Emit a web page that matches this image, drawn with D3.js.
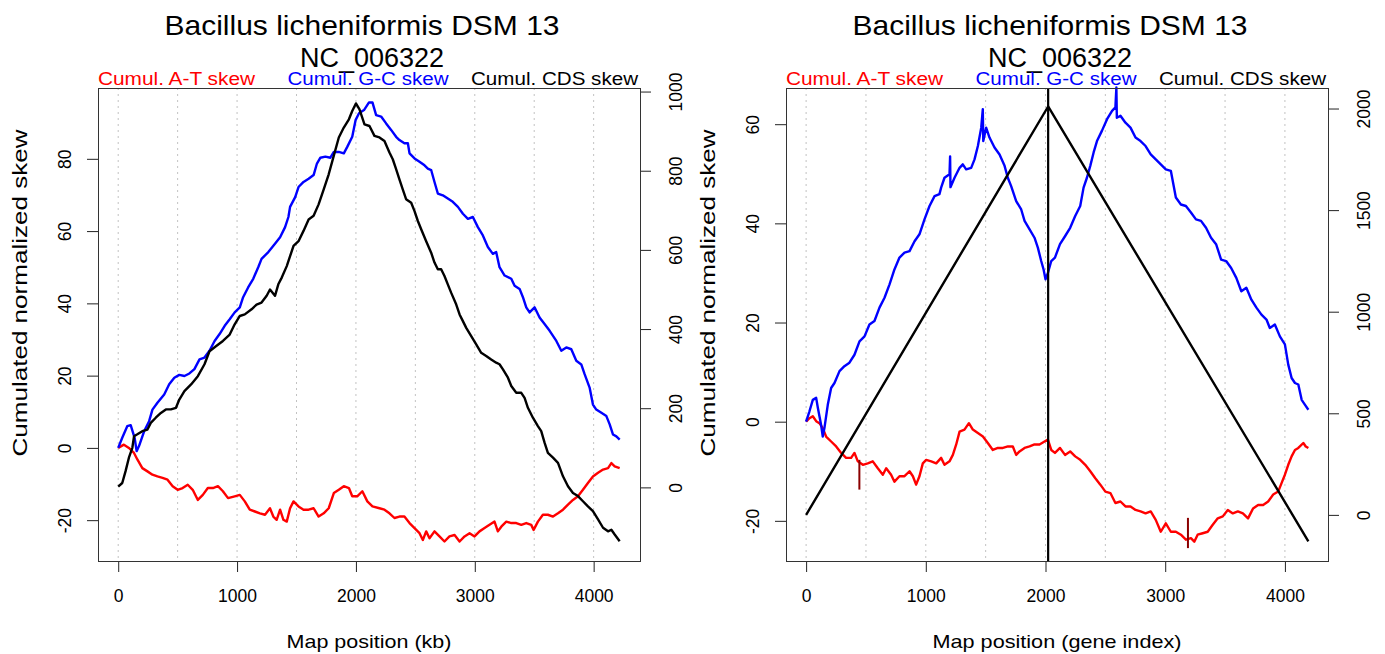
<!DOCTYPE html>
<html>
<head>
<meta charset="utf-8">
<script src="https://cdn.jsdelivr.net/npm/d3@7"></script>
<style>
body { margin: 0; background: #fff; }
text { font-family: "Liberation Sans", Arial, Helvetica, sans-serif; }
</style>
</head>
<body>
<div id="chart_div"></div>
<script>
var title_lines = ["Bacillus licheniformis DSM 13", "NC_006322"];
var legend_labels = ["Cumul. A-T skew", "Cumul. G-C skew", "Cumul. CDS skew"];
var series_colors = ["#ff0000", "#0000ff", "#000000"];
var y_label = "Cumulated normalized skew";
var x_labels = ["Map position (kb)", "Map position (gene index)"];

var x_ticks = [0, 1000, 2000, 3000, 4000];
var grid_ticks = [0, 500, 1000, 1500, 2000, 2500, 3000, 3500, 4000];
var left_y_ticks = [-20, 0, 20, 40, 60, 80];
var left_cds_ticks = [0, 200, 400, 600, 800, 1000];
var right_y_ticks = [-20, 0, 20, 40, 60];
var right_cds_ticks = [0, 500, 1000, 1500, 2000];

// axis ranges as R drew them (data range + 4%)
var left_x_range = [-170, 4390];
var left_y_range = [-31.3, 99.6];
var left_cds_range = [-186, 1009];
var right_x_range = [-168, 4360];
var right_y_range = [-28.1, 67.3];
var right_cds_range = [-227, 2101];

// left panel: position in kb
var left_at = [[0,0],[48,0.9],[90,0],[133,-1.4],[161,-3.2],[203,-5.6],[246,-6.5],[288,-7.4],[330,-7.9],[373,-8.3],[415,-8.8],[458,-10.6],[500,-11.6],[542,-11.1],[585,-10.2],[627,-11.6],[670,-14.4],[712,-13.0],[754,-11.1],[797,-11.1],[839,-10.6],[881,-12.0],[924,-13.9],[980,-13.4],[1023,-13.0],[1065,-14.8],[1107,-17.1],[1150,-17.6],[1192,-18.1],[1235,-18.5],[1277,-16.7],[1305,-19.0],[1333,-19.9],[1362,-17.1],[1390,-19.9],[1418,-20.4],[1446,-16.7],[1475,-14.8],[1517,-16.2],[1559,-17.1],[1602,-17.1],[1644,-16.7],[1686,-19.0],[1729,-18.1],[1771,-16.7],[1814,-12.5],[1856,-11.6],[1898,-10.6],[1941,-11.1],[1969,-13.4],[2011,-13.4],[2054,-12.0],[2096,-14.8],[2139,-16.2],[2198,-16.7],[2240,-17.1],[2282,-18.1],[2324,-19.4],[2366,-19.0],[2408,-19.0],[2451,-20.8],[2493,-22.2],[2535,-23.6],[2563,-25.5],[2591,-23.1],[2619,-25.0],[2661,-23.1],[2703,-24.5],[2745,-25.9],[2787,-24.5],[2830,-24.1],[2872,-25.9],[2914,-24.5],[2956,-23.6],[2998,-24.5],[3040,-23.1],[3082,-22.2],[3124,-21.3],[3166,-20.4],[3194,-23.1],[3223,-21.8],[3265,-20.4],[3307,-20.8],[3349,-20.8],[3391,-21.3],[3433,-20.8],[3475,-21.3],[3495,-22.7],[3531,-20.4],[3573,-18.5],[3615,-18.5],[3658,-19.0],[3700,-18.1],[3742,-17.1],[3784,-15.7],[3826,-14.4],[3868,-13.4],[3910,-11.6],[3952,-9.7],[3994,-7.9],[4037,-6.9],[4079,-6.0],[4121,-5.6],[4149,-4.2],[4177,-5.1],[4219,-5.6]];
var left_gc = [[0,0],[34,2.8],[76,6.0],[105,6.3],[138,2.8],[155,-0.9],[175,0.5],[218,4.6],[260,7.4],[288,10.6],[330,12.5],[387,14.8],[429,17.6],[472,19.4],[514,20.2],[557,19.9],[599,20.6],[641,21.8],[684,24.5],[726,25.0],[768,26.9],[811,29.6],[853,31.5],[896,33.8],[938,35.6],[980,37.5],[1023,38.9],[1051,41.7],[1093,44.4],[1136,46.8],[1178,50.0],[1206,52.3],[1263,54.2],[1319,56.5],[1362,58.3],[1404,61.1],[1432,63.9],[1446,66.7],[1489,69.4],[1517,72.2],[1559,73.6],[1602,74.5],[1644,75.5],[1672,78.7],[1701,80.3],[1743,80.6],[1785,80.3],[1814,81.9],[1856,81.9],[1898,81.5],[1927,83.3],[1969,86.1],[1997,90.7],[2026,92.6],[2068,93.5],[2110,95.6],[2139,95.6],[2170,92.1],[2212,91.7],[2254,89.8],[2296,88.0],[2338,86.1],[2366,85.2],[2408,84.3],[2437,84.3],[2451,81.5],[2493,80.1],[2535,79.2],[2577,78.2],[2605,77.3],[2633,76.9],[2661,73.6],[2689,70.4],[2731,69.9],[2773,69.0],[2815,68.1],[2858,66.7],[2900,64.8],[2942,63.4],[2984,63.9],[3026,61.1],[3068,58.8],[3110,55.6],[3152,53.7],[3180,54.2],[3208,50.0],[3251,47.7],[3307,46.8],[3335,44.9],[3377,44.0],[3405,41.7],[3433,38.9],[3461,37.5],[3503,38.9],[3545,36.1],[3587,34.3],[3630,32.4],[3686,29.6],[3728,26.9],[3770,27.8],[3812,27.3],[3854,24.1],[3896,23.1],[3924,20.4],[3966,16.7],[3994,12.0],[4022,10.6],[4065,9.7],[4107,8.8],[4135,6.5],[4163,3.7],[4191,3.2],[4219,2.3]];
var left_cds = [[0,2],[34,11],[62,41],[90,75],[119,100],[133,129],[161,134],[203,142],[246,146],[274,163],[316,176],[359,188],[401,197],[443,197],[486,201],[514,222],[557,243],[613,260],[670,281],[726,311],[768,344],[825,357],[881,370],[938,386],[980,412],[1023,433],[1065,437],[1122,450],[1164,462],[1206,467],[1249,484],[1277,500],[1319,484],[1347,513],[1376,530],[1418,559],[1446,584],[1475,610],[1517,622],[1559,648],[1602,677],[1644,686],[1686,715],[1729,753],[1771,791],[1814,838],[1856,884],[1898,909],[1941,930],[1969,951],[2000,970],[2030,955],[2072,917],[2114,913],[2156,888],[2198,884],[2240,875],[2282,846],[2310,829],[2338,804],[2366,778],[2394,753],[2422,728],[2465,719],[2493,698],[2521,673],[2549,652],[2591,622],[2633,593],[2661,568],[2689,551],[2717,551],[2745,534],[2773,513],[2801,492],[2844,462],[2872,437],[2900,420],[2928,403],[2970,382],[3012,361],[3054,340],[3096,332],[3138,323],[3180,315],[3208,311],[3237,298],[3279,277],[3307,256],[3349,239],[3391,239],[3419,226],[3447,201],[3489,176],[3531,155],[3559,142],[3587,113],[3615,87],[3658,75],[3700,62],[3742,28],[3784,3],[3826,-14],[3868,-22],[3910,-35],[3952,-48],[3994,-60],[4037,-81],[4079,-102],[4121,-111],[4149,-107],[4177,-119],[4219,-136]];

// right panel: position as gene index
var right_at = [[0,0],[28,0.7],[56,1.1],[84,0.1],[111,-0.3],[139,-1.3],[167,-3.0],[209,-4.0],[251,-5.0],[293,-6.3],[334,-7.3],[376,-7.3],[404,-6.3],[432,-8.0],[474,-8.7],[515,-8.4],[557,-8.0],[599,-9.4],[641,-10.7],[669,-9.4],[710,-10.7],[738,-12.1],[780,-11.0],[822,-11.0],[864,-10.0],[892,-11.0],[919,-12.7],[947,-11.0],[975,-8.4],[1003,-7.7],[1045,-8.0],[1087,-8.4],[1128,-7.3],[1156,-8.7],[1198,-8.0],[1226,-6.7],[1254,-4.6],[1282,-2.0],[1323,-1.6],[1360,-0.3],[1393,-1.6],[1435,-2.3],[1477,-3.0],[1518,-4.3],[1560,-5.7],[1602,-5.3],[1644,-5.3],[1686,-5.0],[1727,-5.0],[1755,-6.7],[1783,-6.0],[1825,-5.3],[1867,-5.0],[1908,-4.6],[1950,-4.6],[1992,-4.0],[2020,-3.6],[2048,-5.7],[2079,-6.3],[2121,-5.3],[2163,-6.7],[2206,-6.0],[2248,-7.0],[2290,-7.7],[2332,-8.7],[2374,-10.0],[2416,-11.4],[2458,-12.7],[2500,-14.1],[2542,-14.4],[2584,-16.4],[2626,-16.1],[2668,-17.1],[2710,-17.1],[2752,-17.8],[2794,-18.1],[2836,-18.5],[2879,-18.1],[2921,-19.8],[2963,-22.2],[3005,-20.5],[3047,-22.2],[3089,-22.2],[3131,-22.8],[3173,-23.8],[3215,-23.5],[3243,-24.2],[3271,-22.8],[3313,-22.5],[3355,-22.2],[3397,-20.8],[3439,-19.5],[3481,-19.1],[3523,-17.8],[3565,-18.5],[3607,-18.1],[3649,-18.5],[3692,-19.5],[3734,-17.5],[3776,-16.8],[3818,-16.8],[3860,-16.1],[3902,-14.7],[3944,-14.1],[3972,-12.4],[4000,-10.7],[4028,-8.7],[4056,-7.0],[4084,-5.7],[4112,-5.3],[4154,-4.3],[4174,-5.0],[4196,-5.3]];
var right_gc = [[0,0],[28,2.1],[56,4.4],[84,4.8],[98,2.8],[125,-0.6],[139,-3.0],[153,-1.3],[181,3.4],[209,6.8],[237,7.8],[279,10.2],[320,11.2],[362,11.9],[404,13.5],[446,16.2],[488,17.2],[529,19.6],[571,20.3],[613,23.0],[655,25.0],[697,27.7],[738,30.7],[780,33.1],[822,34.1],[864,34.4],[906,36.4],[947,37.8],[989,40.8],[1031,43.5],[1073,45.5],[1114,45.9],[1128,47.2],[1156,49.2],[1198,49.9],[1203,53.5],[1206,47.3],[1240,49.2],[1282,51.2],[1309,51.9],[1337,50.9],[1379,51.2],[1407,52.9],[1435,55.6],[1463,59.3],[1476,63.0],[1480,56.6],[1504,59.3],[1532,57.3],[1574,55.3],[1616,53.9],[1658,51.6],[1685,49.2],[1713,47.5],[1755,44.5],[1797,42.8],[1825,40.5],[1867,38.8],[1908,37.1],[1936,35.1],[1964,32.4],[1984,30.7],[2000,28.7],[2020,30.0],[2048,32.4],[2079,33.1],[2121,35.8],[2163,37.4],[2206,39.1],[2248,41.5],[2290,43.5],[2318,47.2],[2346,49.2],[2374,51.6],[2402,54.3],[2430,56.6],[2472,58.7],[2514,61.0],[2556,62.7],[2584,63.4],[2592,67.4],[2596,61.3],[2626,61.7],[2668,60.3],[2710,59.3],[2752,57.3],[2794,56.6],[2836,55.6],[2879,53.9],[2921,52.9],[2963,51.9],[3005,50.9],[3047,50.6],[3089,45.2],[3131,43.8],[3173,43.5],[3215,42.2],[3257,40.8],[3299,40.5],[3341,39.1],[3383,37.1],[3425,35.8],[3467,32.7],[3509,32.4],[3551,31.0],[3594,29.0],[3636,26.3],[3678,27.0],[3720,24.6],[3762,23.0],[3804,21.6],[3846,20.6],[3874,18.9],[3916,19.6],[3958,17.2],[4000,15.6],[4028,11.5],[4056,8.8],[4084,7.8],[4112,7.5],[4140,4.4],[4168,3.4],[4196,2.4]];
var right_cds = [[0,0],[2022,2010],[4196,-130]];
var right_at_spikes = [[445,-7.7,-13.7],[3190,-19.4,-25.5]];
var right_origin = [2022];

var font = "'Liberation Sans', Arial, Helvetica, sans-serif";

var skew_view = {
    svg: 0,
    width: 1385,
    height: 654,
    initialize: function() {
        var self = this;
        self.svg = d3.select("#chart_div").append("svg")
            .attr("width", self.width)
            .attr("height", self.height)
            .style("display", "block");
    },
    draw_panel: function(p) {
        var self = this;
        var g = self.svg.append("g");
        var x = d3.scaleLinear().domain(p.x_range).range([p.left, p.right]);
        var y = d3.scaleLinear().domain(p.y_range).range([p.bottom, p.top]);
        var y2 = d3.scaleLinear().domain(p.cds_range).range([p.bottom, p.top]);
        var mid = (p.left + p.right) / 2;

        g.append("g").selectAll("line")
            .data(grid_ticks)
            .enter()
            .append("line")
            .attr("x1", function(d) { return x(d); })
            .attr("x2", function(d) { return x(d); })
            .attr("y1", p.top)
            .attr("y2", p.bottom)
            .attr("stroke", "#c2c2c2")
            .attr("stroke-width", 1)
            .attr("stroke-dasharray", "2,4");

        var x_axis = g.append("g")
            .attr("transform", "translate(0," + p.bottom + ")")
            .call(d3.axisBottom(x).tickValues(x_ticks).tickSize(11).tickPadding(18)
                .tickFormat(function(d) { return String(d); }));
        var y_axis = g.append("g")
            .attr("transform", "translate(" + p.left + ",0)")
            .call(d3.axisLeft(y).tickValues(p.y_ticks).tickSize(11)
                .tickFormat(function(d) { return String(d); }));
        var cds_axis = g.append("g")
            .attr("transform", "translate(" + p.right + ",0)")
            .call(d3.axisRight(y2).tickValues(p.cds_ticks).tickSize(11)
                .tickFormat(function(d) { return String(d); }));

        [x_axis, y_axis, cds_axis].forEach(function(a) {
            a.attr("font-size", 17.5).attr("font-family", font);
            a.select(".domain").remove();
            a.selectAll(".tick line").attr("stroke", "#222");
        });
        // R keeps the y labels parallel to the axis
        y_axis.selectAll("text")
            .attr("x", 0).attr("y", -27.5).attr("dy", null)
            .attr("text-anchor", "middle")
            .attr("transform", "rotate(-90)");
        cds_axis.selectAll("text")
            .attr("x", 0).attr("y", 42).attr("dy", null)
            .attr("text-anchor", "middle")
            .attr("transform", "rotate(-90)");

        var line_x = d3.line()
            .x(function(d) { return x(d[0]); })
            .y(function(d) { return y(d[1]); });
        var line_cds = d3.line()
            .x(function(d) { return x(d[0]); })
            .y(function(d) { return y2(d[1]); });

        [p.at, p.gc].forEach(function(s, i) {
            g.append("path")
                .datum(s)
                .attr("d", line_x)
                .attr("fill", "none")
                .attr("stroke", series_colors[i])
                .attr("stroke-width", 2.4)
                .attr("stroke-linejoin", "round");
        });
        g.append("g").selectAll("line")
            .data(p.spikes)
            .enter()
            .append("line")
            .attr("x1", function(d) { return x(d[0]); })
            .attr("x2", function(d) { return x(d[0]); })
            .attr("y1", function(d) { return y(d[1]); })
            .attr("y2", function(d) { return y(d[2]); })
            .attr("stroke", "#8b0000")
            .attr("stroke-width", 2);
        g.append("path")
            .datum(p.cds)
            .attr("d", line_cds)
            .attr("fill", "none")
            .attr("stroke", series_colors[2])
            .attr("stroke-width", 2.4)
            .attr("stroke-linejoin", "round");
        g.append("g").selectAll("line")
            .data(p.origin)
            .enter()
            .append("line")
            .attr("x1", function(d) { return x(d); })
            .attr("x2", function(d) { return x(d); })
            .attr("y1", p.top)
            .attr("y2", p.bottom)
            .attr("stroke", "#000")
            .attr("stroke-width", 2.2);

        g.append("rect")
            .attr("x", p.left + 0.5)
            .attr("y", p.top + 0.5)
            .attr("width", p.right - p.left)
            .attr("height", p.bottom - p.top)
            .attr("fill", "none")
            .attr("stroke", "#333")
            .attr("stroke-width", 1);

        g.append("text")
            .attr("x", mid - 7).attr("y", 35)
            .attr("text-anchor", "middle")
            .attr("font-size", 28)
            .attr("textLength", 395).attr("lengthAdjust", "spacingAndGlyphs")
            .text(title_lines[0]);
        g.append("text")
            .attr("x", mid + 3).attr("y", 67)
            .attr("text-anchor", "middle")
            .attr("font-size", 27)
            .text(title_lines[1]);

        var legend_pos = [[p.left, "start", 157], [mid - 1, "middle", 161], [p.right - 2, "end", 167]];
        legend_labels.forEach(function(t, i) {
            g.append("text")
                .attr("x", legend_pos[i][0]).attr("y", 85)
                .attr("text-anchor", legend_pos[i][1])
                .attr("font-size", 18)
                .attr("fill", series_colors[i])
                .attr("textLength", legend_pos[i][2]).attr("lengthAdjust", "spacingAndGlyphs")
                .text(t);
        });

        g.append("text")
            .attr("x", mid).attr("y", 648)
            .attr("text-anchor", "middle")
            .attr("font-size", 19)
            .attr("textLength", p.xlab_len).attr("lengthAdjust", "spacingAndGlyphs")
            .text(p.xlab);
        g.append("text")
            .attr("transform", "translate(" + (p.left - 71.5) + ",293) rotate(-90)")
            .attr("text-anchor", "middle")
            .attr("font-size", 21)
            .attr("textLength", 327).attr("lengthAdjust", "spacingAndGlyphs")
            .text(y_label);
    }
};

skew_view.initialize();
skew_view.draw_panel({
    left: 98, right: 640, top: 88, bottom: 561,
    x_range: left_x_range, y_range: left_y_range, cds_range: left_cds_range,
    y_ticks: left_y_ticks, cds_ticks: left_cds_ticks,
    at: left_at, gc: left_gc, cds: left_cds, spikes: [], origin: [],
    xlab: x_labels[0], xlab_len: 165
});
skew_view.draw_panel({
    left: 786, right: 1328, top: 88, bottom: 561,
    x_range: right_x_range, y_range: right_y_range, cds_range: right_cds_range,
    y_ticks: right_y_ticks, cds_ticks: right_cds_ticks,
    at: right_at, gc: right_gc, cds: right_cds, spikes: right_at_spikes, origin: right_origin,
    xlab: x_labels[1], xlab_len: 249
});
</script>
</body>
</html>
